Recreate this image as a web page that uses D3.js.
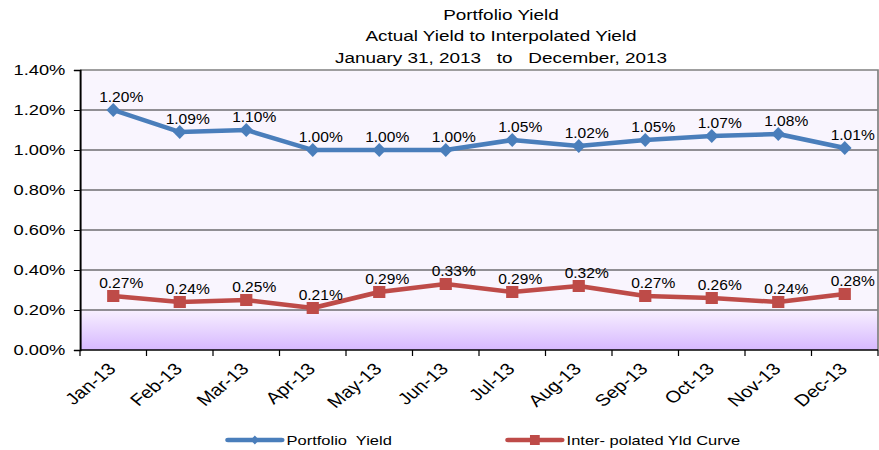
<!DOCTYPE html>
<html>
<head>
<meta charset="utf-8">
<script src="https://cdn.jsdelivr.net/npm/d3@7"></script>
<style>
body { margin: 0; background: #ffffff; }
text { font-family: "Liberation Sans", Arial, sans-serif; fill: #000000; white-space: pre; }
</style>
</head>
<body>
<div id="canvas"></div>
<script>
"use strict"

// the original picture is stretched sideways, so the svg is too
let pageWidth = 879;
let pageHeight = 450;
let stretch = 1.2208;
let viewWidth = pageWidth / stretch;

let months = ["Jan-13", "Feb-13", "Mar-13", "Apr-13", "May-13", "Jun-13",
              "Jul-13", "Aug-13", "Sep-13", "Oct-13", "Nov-13", "Dec-13"];
let portfolioYield = [1.20, 1.09, 1.10, 1.00, 1.00, 1.00, 1.05, 1.02, 1.05, 1.07, 1.08, 1.01];
let interpolatedCurve = [0.27, 0.24, 0.25, 0.21, 0.29, 0.33, 0.29, 0.32, 0.27, 0.26, 0.24, 0.28];
let yTicks = [0, 0.2, 0.4, 0.6, 0.8, 1.0, 1.2, 1.4];
let titleLines = ["Portfolio Yield", "Actual Yield to Interpolated Yield",
                  "January 31, 2013   to   December, 2013"];
let seriesNames = ["Portfolio  Yield", "Inter- polated Yld Curve"];

let series = [
    {name: seriesNames[0], values: portfolioYield, color: "#4a7ebb", marker: "diamond"},
    {name: seriesNames[1], values: interpolatedCurve, color: "#be4b48", marker: "square"}
];

let plotLeft = 80 / stretch;
let plotRight = 878 / stretch;
let plotTop = 70;
let plotBottom = 350;

let drawing = d3.select("#canvas")
    .append("svg")
    .attr("width", pageWidth)
    .attr("height", pageHeight)
    .attr("viewBox", "0 0 " + viewWidth + " " + pageHeight)
    .attr("preserveAspectRatio", "none");

let x = d3.scaleBand()
    .domain(months)
    .range([plotLeft, plotRight]);

let y = d3.scaleLinear()
    .domain([0, 1.4])
    .range([plotBottom, plotTop]);

let defs = drawing.append("defs");
let grad = defs.append("linearGradient")
    .attr("id", "floor")
    .attr("x1", 0).attr("y1", 0)
    .attr("x2", 0).attr("y2", 1);
grad.append("stop").attr("offset", "0%").attr("stop-color", "#f8f0ff");
grad.append("stop").attr("offset", "100%").attr("stop-color", "#d6b8ff");

// plot background
drawing.append("rect")
    .attr("x", plotLeft)
    .attr("y", plotTop)
    .attr("width", plotRight - plotLeft)
    .attr("height", plotBottom - plotTop)
    .attr("fill", "#f9f5fe");

// purple band from 0.20% down to the axis
drawing.append("rect")
    .attr("x", plotLeft)
    .attr("y", y(0.2))
    .attr("width", plotRight - plotLeft)
    .attr("height", plotBottom - y(0.2))
    .attr("fill", "url(#floor)");

// gridlines
drawing.append("g")
    .selectAll("line")
    .data(yTicks.filter(d => d > 0 && d < 1.4))
    .join("line")
    .attr("x1", plotLeft)
    .attr("x2", plotRight)
    .attr("y1", d => y(d))
    .attr("y2", d => y(d))
    .attr("stroke", "#2a2a2a")
    .attr("stroke-width", 1);

// top and right border
drawing.append("path")
    .attr("d", "M" + plotLeft + "," + plotTop + "H" + plotRight + "V" + plotBottom)
    .attr("fill", "none")
    .attr("stroke", "#808080")
    .attr("stroke-width", 1.4);

// y axis
let yAxis = drawing.append("g")
    .attr("transform", "translate(" + plotLeft + ",0)")
    .call(d3.axisLeft(y)
        .tickValues(yTicks)
        .tickFormat(d => d.toFixed(2) + "%")
        .tickSize(5)
        .tickPadding(7));
yAxis.select(".domain").attr("stroke", "#000000").attr("stroke-width", 1.6);
yAxis.selectAll(".tick line").attr("stroke", "#000000");
yAxis.selectAll(".tick text")
    .style("font-size", "15px")
    .attr("fill", "#000000");

// x axis labels
let xAxis = drawing.append("g")
    .attr("transform", "translate(0," + plotBottom + ")")
    .call(d3.axisBottom(x).tickSize(0));
xAxis.select(".domain").remove();
xAxis.selectAll(".tick text")
    .style("font-size", "16.5px")
    .attr("fill", "#000000")
    .attr("text-anchor", "end")
    .attr("x", -1)
    .attr("y", 16)
    .attr("dy", "0.35em")
    .attr("transform", "rotate(-45, -1, 16)");

// x axis line and ticks between the months
drawing.append("line")
    .attr("x1", plotLeft)
    .attr("x2", plotRight)
    .attr("y1", plotBottom)
    .attr("y2", plotBottom)
    .attr("stroke", "#000000")
    .attr("stroke-width", 1.6);
drawing.append("g")
    .selectAll("line")
    .data(months.map(m => x(m)).concat([plotRight]))
    .join("line")
    .attr("x1", d => d)
    .attr("x2", d => d)
    .attr("y1", plotBottom)
    .attr("y2", plotBottom + 6)
    .attr("stroke", "#000000")
    .attr("stroke-width", 1);

let cx = m => x(m) + x.bandwidth() / 2;

let lineMaker = d3.line()
    .x((d, i) => cx(months[i]))
    .y(d => y(d));

function drawMarker(g, kind, color) {
    if (kind === "diamond") {
        g.append("path")
            .attr("d", "M0,-7L5.6,0L0,7L-5.6,0Z")
            .attr("fill", color);
    } else {
        g.append("rect")
            .attr("x", -5)
            .attr("y", -6)
            .attr("width", 10)
            .attr("height", 12)
            .attr("fill", color);
    }
}

series.forEach(s => {
    drawing.append("path")
        .datum(s.values)
        .attr("d", lineMaker)
        .attr("fill", "none")
        .attr("stroke", s.color)
        .attr("stroke-width", 4.5)
        .attr("stroke-linejoin", "round");

    s.values.forEach((v, i) => {
        let g = drawing.append("g")
            .attr("transform", "translate(" + cx(months[i]) + "," + y(v) + ")");
        drawMarker(g, s.marker, s.color);
    });

    // data labels, these are not as wide as the rest of the text
    drawing.append("g")
        .selectAll("text")
        .data(s.values)
        .join("text")
        .attr("transform", (d, i) => "translate(" + (cx(months[i]) + 6.5) + "," + (y(d) - 8) + ") scale(0.85,1)")
        .attr("text-anchor", "middle")
        .style("font-size", "15px")
        .text(d => d.toFixed(2) + "%");
});

// title
drawing.append("g")
    .selectAll("text")
    .data(titleLines)
    .join("text")
    .attr("x", 501 / stretch)
    .attr("y", (d, i) => 20 + i * 21.5)
    .attr("text-anchor", "middle")
    .style("font-size", "15.5px")
    .text(d => d);

// legend
let legendStarts = [228, 508];
series.forEach((s, i) => {
    let lx = legendStarts[i] / stretch;
    let ly = 440;
    drawing.append("line")
        .attr("x1", lx)
        .attr("x2", lx + 44)
        .attr("y1", ly)
        .attr("y2", ly)
        .attr("stroke", s.color)
        .attr("stroke-width", 4.5)
        .attr("stroke-linecap", "round");
    let g = drawing.append("g")
        .attr("transform", "translate(" + (lx + 22) + "," + ly + ")");
    if (s.marker === "diamond") {
        g.append("path").attr("d", "M0,-4.5L3.5,0L0,4.5L-3.5,0Z").attr("fill", s.color);
    } else {
        g.append("rect").attr("x", -4).attr("y", -5).attr("width", 8).attr("height", 10).attr("fill", s.color);
    }
    drawing.append("text")
        .attr("x", lx + 48)
        .attr("y", ly + 5)
        .style("font-size", "13.5px")
        .text(s.name);
});
</script>
</body>
</html>
